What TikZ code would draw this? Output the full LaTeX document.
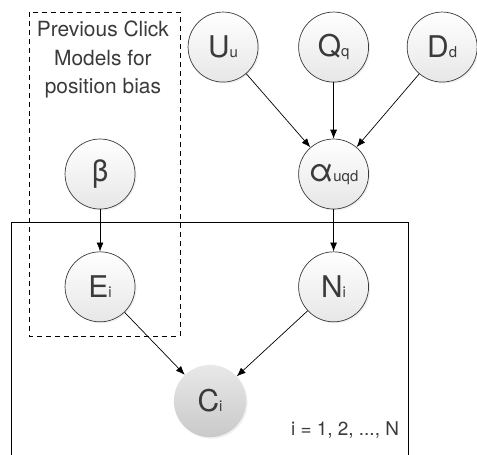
\documentclass[tikz,border=0pt]{standalone}
\usepackage{fontspec}
\setmainfont{TeX Gyre Heros}
\usepackage{tikz}
\usetikzlibrary{arrows.meta,positioning,shadows}

\definecolor{inkgray}{HTML}{3A3A3A}
\definecolor{nodefill}{HTML}{F2F2F2}

\newcommand{\varlab}[2]{{\fontsize{30}{34}\selectfont #1}{\fontsize{15}{17}\selectfont #2}}

\tikzset{
	latent/.style = {circle, draw=inkgray, line width=0.7pt, minimum size=2.47cm, inner sep=0pt,
		top color=white, bottom color=nodefill!90!gray, text=inkgray,
		drop shadow={opacity=0.12, shadow xshift=1.5pt, shadow yshift=-1.5pt}},
	observed/.style = {circle, minimum size=2.55cm, inner sep=0pt,
		top color=gray!18, bottom color=gray!42, text=inkgray,
		drop shadow={opacity=0.12, shadow xshift=1.5pt, shadow yshift=-1.5pt}},
	edge/.style = {line width=0.7pt, -{Latex[length=9pt,width=7pt]}},
	plate/.style = {line width=0.7pt, draw=black},
	note/.style = {align=center, text=inkgray, font=\fontsize{21}{29}\selectfont}
}

\begin{document}
\begin{tikzpicture}
	\useasboundingbox (0,0) rectangle (16.83,-16.05);
	
	% plate over the positions i
	\draw[plate] (0.39,-16.05) |- (14.39,-7.83) -- (14.39,-16.05);
	\node[note, anchor=east, font=\fontsize{19}{23}\selectfont] (platelab) at (14.2,-15.17) {i = 1, 2, ..., N};
	
	% box round the earlier position bias models
	\draw[dashed, line width=0.7pt, dash pattern=on 5pt off 4pt] (1.02,-0.42) rectangle (6.35,-11.85);
	\node[note] (prevlab) at (3.63,-2.1) {Previous Click\\Models for\\position bias};
	
	\node[latent] (U) at (7.87,-1.66) {\varlab{U}{u}};
	\node[latent] (Q) at (11.77,-1.66) {\varlab{Q}{q}};
	\node[latent] (D) at (15.6,-1.66) {\varlab{D}{d}};
	\node[latent] (alpha) at (11.77,-6.14) {{\fontsize{32}{34}\selectfont α}{\fontsize{15}{17}\selectfont uqd}};
	\node[latent] (beta) at (3.53,-6.14) {{\fontsize{30}{34}\selectfont β}};
	\node[latent] (E) at (3.53,-10.12) {\varlab{E}{i}};
	\node[latent] (N) at (11.77,-10.12) {\varlab{N}{i}};
	\node[observed] (C) at (7.41,-14.15) {\varlab{C}{i}};
	
	\draw[edge] (U) -- (alpha);
	\draw[edge] (Q) -- (alpha);
	\draw[edge] (D) -- (alpha);
	\draw[edge] (alpha) -- (N);
	\draw[edge] (beta) -- (E);
	\draw[edge] (E) -- (C);
	\draw[edge] (N) -- (C);
\end{tikzpicture}
\end{document}
